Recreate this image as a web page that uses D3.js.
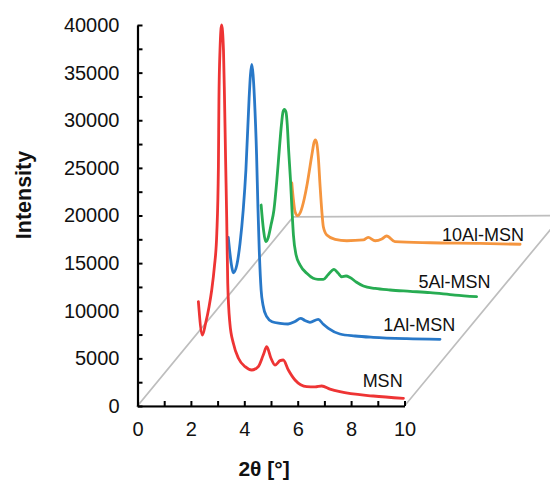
<!DOCTYPE html>
<html><head><meta charset="utf-8">
<script src="https://cdn.jsdelivr.net/npm/d3@7/dist/d3.min.js"></script>
<style>body{margin:0;background:#fff}svg{display:block}</style>
</head><body><svg id="c" width="550" height="480"></svg>
<script>
// ---- data (plotted values) ----
const seriesNames = ["MSN", "1Al-MSN", "5Al-MSN", "10Al-MSN"];
const seriesColors = ["#EE3434", "#2878C8", "#27AC52", "#F5953E"];

const msnX = [2.28,2.43,2.55,2.68,2.78,2.88,2.97,3.03,3.05,3.09,3.15,3.22,3.26,3.30,3.34,3.38,3.46,3.59,3.78,4.03,4.28,4.52,4.71,4.84,5.00,5.15,5.34,5.46,5.65,5.90,6.34,6.65,6.90,7.21,7.58,8.83,9.96];
const msnY = [10950,7450,8680,10430,12180,14620,18130,25120,32130,37380,40000,37380,32130,25830,19870,12880,8680,6580,5010,4130,3780,4130,5350,6230,5010,4300,4760,4830,3780,2730,2030,2000,2100,1780,1500,1050,810];

const al1X = [3.40,3.53,3.59,3.72,3.84,3.96,4.06,4.18,4.23,4.28,4.33,4.38,4.46,4.51,4.56,4.63,4.70,4.84,5.04,5.34,5.64,5.90,6.11,6.27,6.46,6.77,6.95,7.15,7.58,8.15,8.83,10.08,11.33];
const al1Y = [17710,14620,13990,14800,17080,20580,24780,32300,34750,35870,34750,32300,26350,20920,16380,12180,10600,9380,8850,8680,8610,8870,9210,8980,8790,9100,8610,8160,7560,7350,7210,7070,7000];

const al5X = [4.63,4.72,4.80,4.89,5.00,5.11,5.22,5.31,5.39,5.45,5.50,5.56,5.61,5.66,5.73,5.78,5.84,5.94,6.09,6.34,6.58,6.76,6.96,7.13,7.36,7.51,7.65,7.81,7.96,8.19,8.46,8.90,9.46,10.21,10.96,11.89,12.70];
const al5Y = [21100,18480,17250,17640,19000,20580,23730,26880,29500,30870,31150,30870,29500,26880,23730,20920,17950,15850,14800,13930,13410,13300,13300,13750,14350,13960,13570,13650,13490,13020,12600,12340,12180,12040,11900,11650,11480];

const al10X = [5.78,5.84,5.90,5.99,6.11,6.25,6.36,6.46,6.55,6.61,6.66,6.71,6.77,6.84,6.90,6.96,7.09,7.40,7.84,8.46,8.64,8.90,9.15,9.33,9.64,10.96,12.83,14.33];
const al10Y = [23410,21630,20400,19980,20400,21810,23380,25120,26700,27640,27930,27640,26170,23030,20580,18820,17950,17500,17350,17430,17710,17350,17530,17850,17250,17140,17080,16980];

// floor parallelogram corners (axis units)
const floorX = [0, 10, 15.9, 5.83];
const floorY = [0, 0, 20000, 19850];

// series label anchors (axis units, right end / baseline)
const labelX = [9.93, 11.9, 13.22, 14.48];
const labelY = [2000, 7870, 12420, 17300];

const xTicks = d3.range(0, 10.001, 1);
const yTicks = d3.range(0, 40001, 2500);

// ---- drawing ----
const svg = d3.select("#c");
const font = "'Liberation Sans', Arial, sans-serif";
const x = d3.scaleLinear().domain([0, 10]).range([137.5, 404.5]);
const y = d3.scaleLinear().domain([0, 40000]).range([406, 25]);

// floor
const floorPts = floorX.map((v, i) => [x(v), y(floorY[i])]);
svg.append("path")
  .attr("d", d3.line()(floorPts) + "Z")
  .attr("fill", "none").attr("stroke", "#BEBEBE").attr("stroke-width", 1.7);

// curves
const seriesData = [
  d3.zip(msnX, msnY), d3.zip(al1X, al1Y), d3.zip(al5X, al5Y), d3.zip(al10X, al10Y)
];
const line = d3.line().x(d => x(d[0])).y(d => y(d[1])).curve(d3.curveMonotoneX);
[3, 2, 1, 0].forEach(i => {
  svg.append("path").attr("d", line(seriesData[i]))
    .attr("fill", "none").attr("stroke", seriesColors[i])
    .attr("stroke-width", 2.8).attr("stroke-linejoin", "round").attr("stroke-linecap", "round");
});

// axes
const yAxis = d3.axisLeft(y).tickValues(yTicks).tickSize(-5).tickSizeOuter(0)
  .tickFormat(d => d % 5000 === 0 ? d : "").tickPadding(18);
const gy = svg.append("g").attr("transform", `translate(${x(0)},0)`).call(yAxis);
const xAxis = d3.axisBottom(x).tickValues(xTicks).tickSize(-5).tickSizeOuter(0)
  .tickFormat(d => d % 2 === 0 ? d : "").tickPadding(16);
const gx = svg.append("g").attr("transform", `translate(0,${y(0)})`).call(xAxis);
[gx, gy].forEach(g => {
  g.select(".domain").attr("stroke", "#000").attr("stroke-width", 2.2);
  g.selectAll(".tick line").attr("stroke", "#000").attr("stroke-width", 2);
  g.selectAll(".tick text").attr("font-family", font).attr("font-size", 20).attr("fill", "#111");
});

// series labels
seriesNames.forEach((n, i) => {
  svg.append("text").attr("x", x(labelX[i])).attr("y", y(labelY[i]))
    .attr("text-anchor", "end").attr("font-family", font).attr("font-size", 18)
    .attr("fill", "#111").text(n);
});

// axis titles
svg.append("text").attr("transform", "translate(31,195) rotate(-90)")
  .attr("text-anchor", "middle").attr("font-family", font).attr("font-size", 21.5)
  .attr("font-weight", "bold").attr("fill", "#111").text("Intensity");
svg.append("text").attr("x", 264).attr("y", 476)
  .attr("text-anchor", "middle").attr("font-family", font).attr("font-size", 21)
  .attr("font-weight", "bold").attr("fill", "#111").text("2θ [°]");
</script></body></html>
